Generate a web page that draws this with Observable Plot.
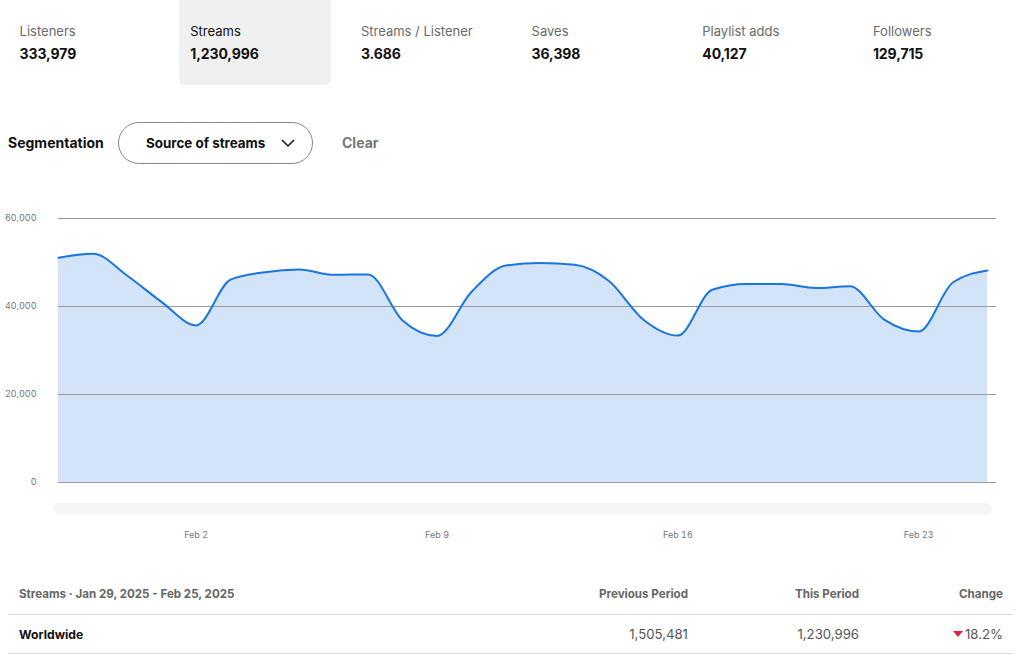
<!DOCTYPE html>
<html>
<head>
<meta charset="utf-8">
<script src="https://cdn.jsdelivr.net/npm/d3@7"></script>
<script src="https://cdn.jsdelivr.net/npm/@observablehq/plot@0.6"></script>
<style>
  html, body { margin: 0; padding: 0; background: #fff; width: 1024px; height: 665px; overflow: hidden; font-family: Inter, "Noto Sans", sans-serif; }
  .abs { position: absolute; white-space: nowrap; }
  .metric { position: absolute; top: 0; width: 152px; height: 85px; border-radius: 0 0 5px 5px; }
  .metric.active { background: #f0f0f0; }
  .metric .lab { position: absolute; left: 11px; top: 23px; font-size: 13px; color: #6a6a6a; }
  .metric.active .lab { color: #111; }
  .metric .val { position: absolute; left: 11px; top: 45px; font-size: 14px; font-weight: 700; color: #111; letter-spacing: -0.1px; }
  .seg { left: 8px; top: 134px; font-size: 14px; font-weight: 700; color: #111; }
  .pill { position: absolute; left: 118px; top: 122px; width: 195px; height: 42px; border: 1px solid #8a8a8a; border-radius: 22px; box-sizing: border-box; }
  .pill span { position: absolute; left: 27px; top: 12px; font-size: 13.4px; font-weight: 700; color: #111; }
  .pill svg { position: absolute; left: 162px; top: 15px; }
  .clear { left: 342px; top: 134px; font-size: 14px; font-weight: 700; color: #777; }
  .scroll { position: absolute; left: 53px; top: 503px; width: 939px; height: 11px; border-radius: 6px; background: #f6f6f6; }
  .th { top: 587px; font-size: 11.6px; font-weight: 700; color: #666; }
  .td { top: 626px; font-size: 13.2px; color: #555; }
  .hr { position: absolute; left: 8px; width: 1005px; height: 1px; background: #dedede; }
  #chart { position: absolute; left: 0; top: 200px; }
</style>
</head>
<body>
<div id="metrics"></div>
<div class="abs seg">Segmentation</div>
<div class="pill"><span>Source of streams</span><svg width="14" height="10" viewBox="0 0 14 10"><path d="M1 2 L7 8 L13 2" fill="none" stroke="#111" stroke-width="1.5"/></svg></div>
<div class="abs clear">Clear</div>
<div id="chart"></div>
<div class="scroll"></div>
<div class="abs th" style="left:19px">Streams · Jan 29, 2025 - Feb 25, 2025</div>
<div class="abs th" id="h1" style="right:336px"></div>
<div class="abs th" id="h2" style="right:165px"></div>
<div class="abs th" id="h3" style="right:21px"></div>
<div class="hr" style="top:614px"></div>
<div class="abs td" style="left:19px; color:#111; font-weight:700; font-size:12.2px; top:627px">Worldwide</div>
<div class="abs td" id="prev" style="right:336px"></div>
<div class="abs td" id="cur" style="right:165px"></div>
<div class="abs td" id="chg" style="right:21px"></div>
<div class="hr" style="top:653px"></div>
<script>
// ---- data ----
const metricLabels = ["Listeners", "Streams", "Streams / Listener", "Saves", "Playlist adds", "Followers"];
const metricValues = ["333,979", "1,230,996", "3.686", "36,398", "40,127", "129,715"];
const activeMetric = "Streams";

const dates = [
  "2025-01-29","2025-01-30","2025-01-31","2025-02-01","2025-02-02","2025-02-03","2025-02-04",
  "2025-02-05","2025-02-06","2025-02-07","2025-02-08","2025-02-09","2025-02-10","2025-02-11",
  "2025-02-12","2025-02-13","2025-02-14","2025-02-15","2025-02-16","2025-02-17","2025-02-18",
  "2025-02-19","2025-02-20","2025-02-21","2025-02-22","2025-02-23","2025-02-24","2025-02-25"
];
const streams = [
  51100, 52000, 47000, 41000, 35700, 46100, 47800,
  48400, 47200, 47300, 36800, 33300, 43300, 49300,
  49900, 49500, 45800, 37000, 33400, 43800, 45100,
  45100, 44200, 44600, 37000, 34300, 45500, 48200
];
const yTicks = [0, 20000, 40000, 60000];
const xTicks = ["2025-02-02", "2025-02-09", "2025-02-16", "2025-02-23"];

const tableHeaders = ["Previous Period", "This Period", "Change"];
const previousPeriod = 1505481;
const thisPeriod = 1230996;
const changePct = "18.2%";

// ---- metrics row ----
const m = document.getElementById("metrics");
metricLabels.forEach((lab, i) => {
  const d = document.createElement("div");
  d.className = "metric" + (lab === activeMetric ? " active" : "");
  d.style.left = (8.6 + 170.67 * i) + "px";
  d.innerHTML = `<div class="lab">${lab}</div><div class="val">${metricValues[i]}</div>`;
  m.appendChild(d);
});

// ---- table ----
const fmt = d3.format(",");
["h1", "h2", "h3"].forEach((id, i) => document.getElementById(id).textContent = tableHeaders[i]);
document.getElementById("prev").textContent = fmt(previousPeriod);
document.getElementById("cur").textContent = fmt(thisPeriod);
document.getElementById("chg").innerHTML = `<svg width="10" height="7" viewBox="0 0 10 7" style="vertical-align:1px;margin-right:2px"><path d="M0 0 L10 0 L5 6 Z" fill="#e22134"/></svg>${changePct}`;

// ---- chart ----
const parse = d3.utcParse("%Y-%m-%d");
const data = dates.map((d, i) => ({date: parse(d), value: streams[i]}));

const chart = Plot.plot({
  width: 1024,
  height: 350,
  marginTop: 18,
  marginBottom: 68,
  marginLeft: 58,
  marginRight: 28,
  style: {fontFamily: "Inter, 'Noto Sans', sans-serif", fontSize: "9px", color: "#777", background: "transparent"},
  x: {type: "utc", domain: [parse(dates[0]), parse(dates[dates.length - 1])], range: [58, 987]},
  y: {domain: [0, 60000], range: [282, 18]},
  marks: [
    Plot.areaY(data, {x: "date", y: "value", curve: "monotone-x", fill: "#d3e3f8"}),
    Plot.ruleY(yTicks, {stroke: "#9a9a9a", strokeWidth: 1}),
    Plot.lineY(data, {x: "date", y: "value", curve: "monotone-x", stroke: "#1a76de", strokeWidth: 2}),
    Plot.axisY({ticks: yTicks, tickFormat: d3.format(","), tickSize: 0, tickPadding: 22, label: null, fill: "#777"}),
    Plot.axisX({ticks: xTicks.map(parse), tickFormat: d3.utcFormat("%b %-d"), tickSize: 0, tickPadding: 49, label: null, fill: "#777"})
  ]
});
document.getElementById("chart").appendChild(chart);
</script>
</body>
</html>
